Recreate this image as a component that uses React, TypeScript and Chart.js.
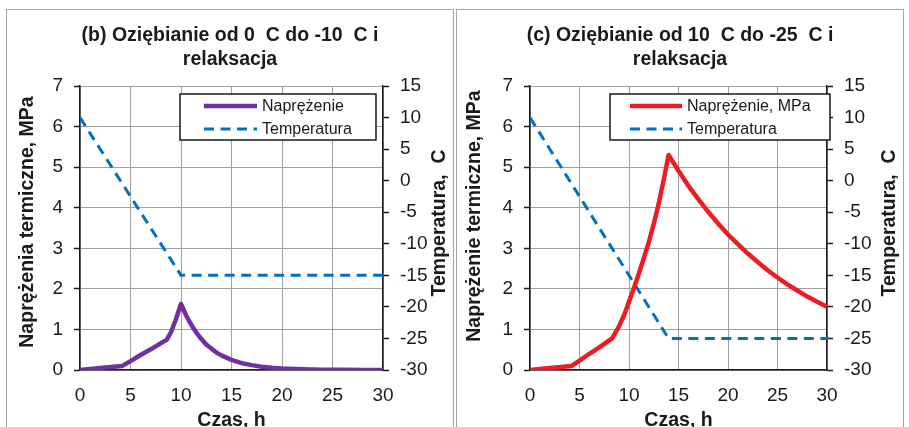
import React, { useEffect, useRef } from 'react';
import { Chart, registerables } from 'chart.js';

Chart.register(...registerables);

// ---------- data ----------
const timeTicksMin = 0;
const timeTicksMax = 30;

// (b)
const titleB = ['(b) Oziębianie od 0  C do -10  C i', 'relaksacja'];
const yTitleB = 'Naprężenia termiczne, MPa';
const stressLabelB = 'Naprężenie';
const timeStressB = [0, 2, 4.2, 5, 6, 7, 8, 8.6, 9, 9.5, 10, 10.5, 11, 11.5, 12, 12.5, 13, 13.5, 14, 15, 16, 17, 18, 19, 20, 22, 24, 26, 28, 30];
const stressB = [0, 0.05, 0.1, 0.22, 0.37, 0.51, 0.66, 0.75, 0.93, 1.25, 1.63, 1.35, 1.12, 0.93, 0.77, 0.63, 0.53, 0.43, 0.36, 0.25, 0.17, 0.12, 0.08, 0.055, 0.038, 0.018, 0.008, 0.004, 0.002, 0];
const timeTempB = [0, 10, 30];
const tempB = [10, -15, -15];

// (c)
const titleC = ['(c) Oziębianie od 10  C do -25  C i', 'relaksacja'];
const yTitleC = 'Naprężenie termiczne, MPa';
const stressLabelC = 'Naprężenie, MPa';
const timeStressC = [0, 2, 4.2, 5, 6, 7, 8.3, 9, 9.5, 10, 10.5, 11, 11.5, 12, 12.5, 13, 13.5, 14, 15, 16, 17, 18, 19, 20, 21, 22, 23, 24, 25, 26, 27, 28, 29, 30];
const stressC = [0, 0.05, 0.1, 0.23, 0.4, 0.56, 0.78, 1.08, 1.35, 1.68, 2.02, 2.38, 2.76, 3.15, 3.6, 4.1, 4.68, 5.3, 4.91, 4.54, 4.21, 3.9, 3.61, 3.34, 3.1, 2.87, 2.66, 2.46, 2.28, 2.11, 1.96, 1.81, 1.68, 1.56];
const timeTempC = [0, 14, 30];
const tempC = [10, -25, -25];

const tempLabel = 'Temperatura';
const xTitle = 'Czas, h';
const y1Title = 'Temperatura,  C';

// ---------- styling ----------
const FONT = "'Liberation Sans', Arial, sans-serif";
const TEXT = '#1a1a1a';
const GRID = '#a0a0a0';
const BLUE = '#0070c0';

Chart.defaults.font.family = FONT;
Chart.defaults.color = TEXT;

const boxLegend = {
  id: 'boxLegend',
  afterDraw(chart: any, _args: any, opts: any) {
    const { ctx, chartArea } = chart;
    const x = chartArea.left + opts.dx;
    const y = chartArea.top + opts.dy;
    ctx.save();
    ctx.fillStyle = '#ffffff';
    ctx.fillRect(x, y, opts.w, opts.h);
    ctx.strokeStyle = '#1a1a1a';
    ctx.lineWidth = 1.5;
    ctx.strokeRect(x, y, opts.w, opts.h);
    chart.data.datasets.forEach((ds: any, i: number) => {
      const cy = y + opts.rows[i];
      ctx.beginPath();
      ctx.setLineDash(ds.borderDash || []);
      ctx.strokeStyle = ds.borderColor;
      ctx.lineWidth = ds.borderWidth;
      ctx.lineCap = 'butt';
      ctx.moveTo(x + opts.sx0, cy);
      ctx.lineTo(x + opts.sx1, cy);
      ctx.stroke();
      ctx.setLineDash([]);
      ctx.fillStyle = TEXT;
      ctx.font = `16px ${FONT}`;
      ctx.textBaseline = 'middle';
      ctx.textAlign = 'left';
      ctx.fillText(ds.label, x + opts.tx, cy + 1);
    });
    ctx.restore();
  },
};

const axisTitles = {
  id: 'axisTitles',
  afterDraw(chart: any, _args: any, opts: any) {
    const { ctx } = chart;
    ctx.save();
    ctx.fillStyle = TEXT;
    ctx.font = `bold 19.5px ${FONT}`;
    ctx.textAlign = 'center';
    ctx.textBaseline = 'middle';
    (opts.items || []).forEach((it: any) => {
      ctx.save();
      ctx.translate(it.x, it.y);
      ctx.rotate(-Math.PI / 2);
      ctx.fillText(it.text, 0, 0);
      ctx.restore();
    });
    ctx.restore();
  },
};

function makeConfig(p: {
  title: string[];
  stressLabel: string;
  stressColor: string;
  ts: number[];
  s: number[];
  tt: number[];
  t: number[];
  y1Width: number;
  legend: any;
  titles: any;
}): any {
  return {
    type: 'line',
    data: {
      datasets: [
        {
          label: p.stressLabel,
          data: p.ts.map((x, i) => ({ x, y: p.s[i] })),
          borderColor: p.stressColor,
          borderWidth: 4.5,
          pointRadius: 0,
          tension: 0,
          yAxisID: 'y',
          borderJoinStyle: 'round',
        },
        {
          label: tempLabel,
          data: p.tt.map((x, i) => ({ x, y: p.t[i] })),
          borderColor: BLUE,
          borderWidth: 3,
          borderDash: [10, 6.5],
          pointRadius: 0,
          tension: 0,
          yAxisID: 'y1',
        },
      ],
    },
    options: {
      responsive: false,
      animation: false,
      layout: { padding: 0 },
      plugins: {
        legend: { display: false },
        tooltip: { enabled: false },
        title: {
          display: true,
          text: p.title,
          color: TEXT,
          font: { size: 19.5, weight: 'bold', lineHeight: 24 / 19.5 },
          padding: { top: 14, bottom: 14 },
        },
        boxLegend: p.legend,
        axisTitles: p.titles,
      },
      scales: {
        x: {
          type: 'linear',
          min: timeTicksMin,
          max: timeTicksMax,
          ticks: { stepSize: 5, font: { size: 19 }, padding: 14, color: TEXT },
          grid: { color: GRID, lineWidth: 1, drawTicks: false },
          border: { color: '#1a1a1a', width: 1.5 },
          title: {
            display: true,
            text: xTitle,
            font: { size: 19.5, weight: 'bold', lineHeight: 1.2 },
            padding: { top: 0, bottom: 18 },
            color: TEXT,
          },
          afterFit: (s: any) => { s.height = 80; },
        },
        y: {
          position: 'left',
          min: 0,
          max: 7,
          ticks: { stepSize: 1, font: { size: 19 }, padding: 11, color: TEXT },
          grid: { color: GRID, lineWidth: 1, tickColor: '#1a1a1a', tickLength: 6, tickWidth: 1.5 },
          border: { color: '#1a1a1a', width: 1.5 },
          afterFit: (s: any) => { s.width = 73; },
        },
        y1: {
          position: 'right',
          min: -30,
          max: 15,
          ticks: { stepSize: 5, font: { size: 19 }, padding: 11, color: TEXT },
          grid: { drawOnChartArea: false, color: '#1a1a1a', tickColor: '#1a1a1a', tickLength: 6, tickWidth: 1.5 },
          border: { color: '#1a1a1a', width: 1.5 },
          afterFit: (s: any) => { s.width = p.y1Width; },
        },
      },
    },
    plugins: [boxLegend, axisTitles],
  };
}

function Panel({ config, left }: { config: any; left: number }) {
  const ref = useRef<HTMLCanvasElement>(null);
  useEffect(() => {
    const chart = new Chart(ref.current as HTMLCanvasElement, config);
    return () => chart.destroy();
  }, []);
  return (
    <div
      style={{
        position: 'absolute',
        left,
        top: 9,
        width: 446,
        height: 500,
        border: '1px solid #a6a6a6',
        background: '#fff',
      }}
    >
      <canvas ref={ref} width={446} height={440} style={{ display: 'block' }} />
    </div>
  );
}

export default function App() {
  const cfgB = makeConfig({
    title: titleB,
    stressLabel: stressLabelB,
    stressColor: '#7030a0',
    ts: timeStressB,
    s: stressB,
    tt: timeTempB,
    t: tempB,
    y1Width: 70,
    legend: { dx: 100, dy: 8, w: 196, h: 46, rows: [12, 35], sx0: 24, sx1: 77, tx: 82 },
    titles: { items: [{ text: yTitleB, x: 21, y: 212 }, { text: y1Title, x: 433, y: 213 }] },
  });
  const cfgC = makeConfig({
    title: titleC,
    stressLabel: stressLabelC,
    stressColor: '#ed1c24',
    ts: timeStressC,
    s: stressC,
    tt: timeTempC,
    t: tempC,
    y1Width: 76,
    legend: { dx: 80, dy: 8, w: 220, h: 46, rows: [12, 35], sx0: 20, sx1: 72, tx: 77 },
    titles: { items: [{ text: yTitleC, x: 18, y: 206 }, { text: y1Title, x: 433, y: 213 }] },
  });
  return (
    <div
      style={{
        position: 'fixed',
        left: 0,
        top: 0,
        width: 909,
        height: 427,
        overflow: 'hidden',
        background: '#fff',
      }}
    >
      <Panel config={cfgB} left={6} />
      <Panel config={cfgC} left={456} />
    </div>
  );
}
